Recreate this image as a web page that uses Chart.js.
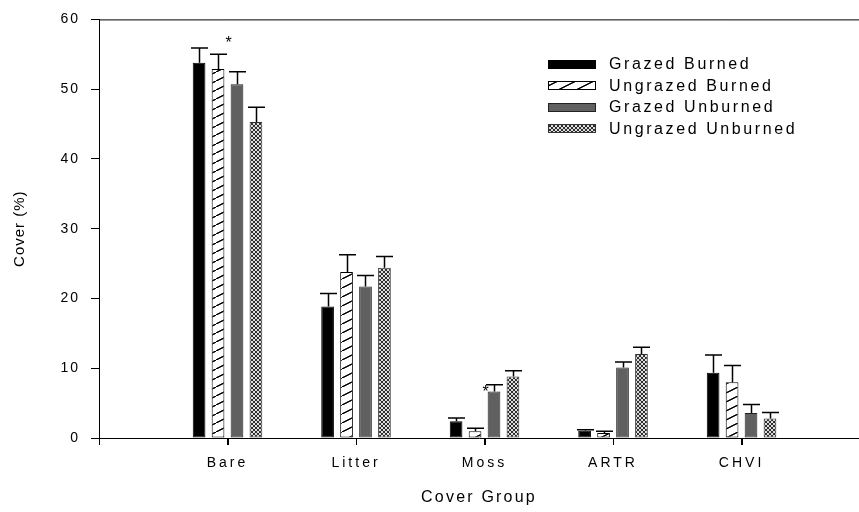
<!DOCTYPE html>
<html><head><meta charset="utf-8">
<script src="https://cdn.jsdelivr.net/npm/chart.js@4/dist/chart.umd.min.js"></script>
<style>html,body{margin:0;padding:0;background:#fff;overflow:hidden}#wrap{width:859px;height:512px;position:relative}</style>
</head><body><div id="wrap"><canvas id="c" width="859" height="512"></canvas></div>
<script>
// ---- data ----
const categories = ['Bare', 'Litter', 'Moss', 'ARTR', 'CHVI'];
const seriesNames = ['Grazed Burned', 'Ungrazed Burned', 'Grazed Unburned', 'Ungrazed Unburned'];
const grazedBurned       = [53.8, 18.85, 2.4, 1.05, 9.35];
const grazedBurnedSE     = [2.1, 1.85, 0.45, 0.15, 2.55];
const ungrazedBurned     = [52.9, 23.8, 0.95, 0.7, 8.0];
const ungrazedBurnedSE   = [2.1, 2.45, 0.45, 0.25, 2.4];
const grazedUnburned     = [50.7, 21.7, 6.65, 10.1, 3.6];
const grazedUnburnedSE   = [1.8, 1.6, 1.0, 0.8, 1.2];
const ungrazedUnburned   = [45.3, 24.4, 8.8, 12.05, 2.8];
const ungrazedUnburnedSE = [2.1, 1.6, 0.85, 0.95, 0.85];
const yTickValues = [0, 10, 20, 30, 40, 50, 60];
const xTickValues = [0, 1, 2, 3, 4, 5];
const asteriskCategories = ['Bare', 'Moss'];
const asteriskHeights = [57.0, 7.0];
const yTitle = 'Cover (%)';
const xTitle = 'Cover Group';

// ---- patterns ----
function makeHatch() {
  const c = document.createElement('canvas'); c.width = 18; c.height = 9;
  const g = c.getContext('2d');
  g.fillStyle = '#fff'; g.fillRect(0, 0, 18, 9);
  g.strokeStyle = '#000'; g.lineWidth = 1;
  g.beginPath(); g.moveTo(-18, 18); g.lineTo(18, 0); g.moveTo(0, 9); g.lineTo(18, 0); g.moveTo(0, 9); g.lineTo(36, -9); g.stroke();
  return g.createPattern(c, 'repeat');
}
function makeCross() {
  const n = 4;
  const c = document.createElement('canvas'); c.width = n; c.height = n;
  const g = c.getContext('2d');
  g.fillStyle = '#dcdcdc'; g.fillRect(0, 0, n, n);
  g.fillStyle = '#2e2e2e';
  for (let x = 0; x < n; x++) {
    for (let y = 0; y < n; y++) {
      if (x === y || x + y === n - 1) g.fillRect(x, y, 1, 1);
    }
  }
  return g.createPattern(c, 'repeat');
}
const hatch = makeHatch();
const cross = makeCross();

function toPoints(vals) { return vals.map((v, i) => ({ x: i + 1, y: v })); }

const datasets = [
  { label: seriesNames[0], data: toPoints(grazedBurned), errors: grazedBurnedSE, backgroundColor: '#000000', borderColor: '#000000' },
  { label: seriesNames[1], data: toPoints(ungrazedBurned), errors: ungrazedBurnedSE, backgroundColor: hatch, borderColor: '#000000' },
  { label: seriesNames[2], data: toPoints(grazedUnburned), errors: grazedUnburnedSE, backgroundColor: '#606060', borderColor: '#222222' },
  { label: seriesNames[3], data: toPoints(ungrazedUnburned), errors: ungrazedUnburnedSE, backgroundColor: cross, borderColor: '#333333' }
].map(d => Object.assign(d, { borderWidth: 1, borderSkipped: false, categoryPercentage: 0.59, barPercentage: 0.67 }));

const FONT = 'Liberation Sans, Arial, sans-serif';

function wrapSpacing(scale, method, spacing) {
  const orig = scale[method];
  scale[method] = function (...args) {
    const ctx = this.ctx;
    const prev = ctx.letterSpacing;
    ctx.letterSpacing = spacing;
    const r = orig.apply(this, args);
    ctx.letterSpacing = prev;
    return r;
  };
}

const spacingPlugin = {
  id: 'spacing',
  beforeDraw(chart) {
    const { x, y } = chart.scales;
    if (!x._spaced) {
      wrapSpacing(x, 'drawLabels', '3px');
      wrapSpacing(x, 'drawTitle', '2.2px');
      x._spaced = true;
    }
    if (!y._spaced) {
      wrapSpacing(y, 'drawLabels', '2px');
      wrapSpacing(y, 'drawTitle', '1px');
      y._spaced = true;
    }
  }
};

const framePlugin = {
  id: 'frame',
  afterDraw(chart) {
    const { ctx, chartArea, scales } = chart;
    ctx.save();
    ctx.strokeStyle = '#000'; ctx.lineWidth = 1;
    ctx.beginPath();
    ctx.moveTo(chartArea.left, chartArea.top + 0.5);
    ctx.lineTo(chartArea.right, chartArea.top + 0.5);
    xTickValues.forEach(v => {
      const px = Math.round(scales.x.getPixelForValue(v)) + 0.5;
      ctx.moveTo(px, chartArea.bottom);
      ctx.lineTo(px, chartArea.bottom + 7);
    });
    ctx.stroke();
    ctx.restore();
  }
};

const errorBarPlugin = {
  id: 'errorBars',
  afterDatasetsDraw(chart) {
    const { ctx } = chart;
    const y = chart.scales.y;
    ctx.save();
    ctx.strokeStyle = '#000'; ctx.lineWidth = 1.5;
    chart.data.datasets.forEach((ds, i) => {
      const meta = chart.getDatasetMeta(i);
      meta.data.forEach((bar, j) => {
        const top = y.getPixelForValue(ds.data[j].y + ds.errors[j]);
        const x = Math.round(bar.x) + 0.5;
        ctx.beginPath();
        ctx.moveTo(x, bar.y);
        ctx.lineTo(x, top);
        ctx.moveTo(x - 8.5, top);
        ctx.lineTo(x + 8.5, top);
        ctx.stroke();
      });
    });
    ctx.restore();
  }
};

const asteriskPlugin = {
  id: 'asterisks',
  afterDraw(chart) {
    const { ctx, scales } = chart;
    ctx.save();
    ctx.font = '16px ' + FONT;
    ctx.letterSpacing = '0px';
    ctx.fillStyle = '#000'; ctx.textAlign = 'center'; ctx.textBaseline = 'middle';
    asteriskCategories.forEach((c, k) => {
      const xv = categories.indexOf(c) + 1;
      ctx.fillText('*', scales.x.getPixelForValue(xv) + 1, scales.y.getPixelForValue(asteriskHeights[k]) + 3);
    });
    ctx.restore();
  }
};

const legendPlugin = {
  id: 'customLegend',
  afterDraw(chart) {
    const { ctx } = chart;
    ctx.save();
    ctx.font = '16px ' + FONT;
    ctx.letterSpacing = '2.6px';
    ctx.textAlign = 'left'; ctx.textBaseline = 'middle';
    const bx = 548, bw = 48, bh = 9, tx = 609;
    const rows = [64, 85.5, 107, 128.5];
    chart.data.datasets.forEach((ds, i) => {
      const cy = rows[i];
      ctx.fillStyle = ds.backgroundColor;
      ctx.fillRect(bx, Math.round(cy - bh / 2), bw, bh);
      ctx.strokeStyle = ds.borderColor; ctx.lineWidth = 1;
      ctx.strokeRect(bx + 0.5, Math.round(cy - bh / 2) + 0.5, bw - 1, bh - 1);
      ctx.fillStyle = '#000';
      ctx.fillText(ds.label, tx, cy + 1);
    });
    ctx.restore();
  }
};

new Chart(document.getElementById('c'), {
  type: 'bar',
  data: { datasets },
  options: {
    responsive: false,
    animation: false,
    devicePixelRatio: 1,
    layout: { padding: { top: 15, right: 0, left: 0, bottom: 0 } },
    plugins: { legend: { display: false }, tooltip: { enabled: false } },
    scales: {
      x: {
        type: 'linear', min: 0, max: 5.914, offset: false,
        afterFit(s) { s.height = 74; },
        grid: { drawOnChartArea: false, offset: false, tickLength: 7, color: '#000', tickWidth: 1 },
        border: { color: '#000', width: 1 },
        ticks: {
          stepSize: 1, includeBounds: false, autoSkip: false, maxRotation: 0, padding: 10,
          color: '#000', font: { family: FONT, size: 14 },
          callback: v => (v >= 1 && v <= categories.length) ? categories[v - 1] : ''
        },
        title: { display: true, text: xTitle, color: '#000', font: { family: FONT, size: 16 }, padding: { top: 0, bottom: 5 } }
      },
      y: {
        min: 0, max: 60,
        afterFit(s) { s.width = 99; },
        afterBuildTicks(s) { s.ticks = yTickValues.map(v => ({ value: v })); },
        grid: { drawOnChartArea: false, tickLength: 8, color: '#000', tickWidth: 1 },
        border: { color: '#000', width: 1 },
        ticks: { color: '#000', padding: 11, font: { family: FONT, size: 14 } },
        title: { display: true, text: yTitle, color: '#000', font: { family: FONT, size: 15 }, padding: { top: 11, bottom: 0 } }
      }
    }
  },
  plugins: [spacingPlugin, framePlugin, errorBarPlugin, asteriskPlugin, legendPlugin]
});
</script>
</body></html>
